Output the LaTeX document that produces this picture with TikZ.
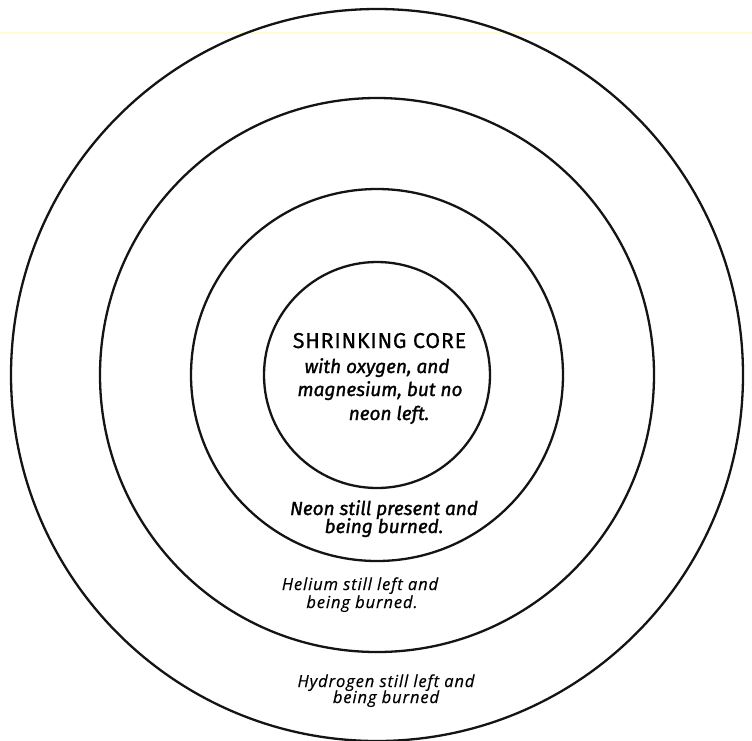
\documentclass[tikz,border=0pt]{standalone}
\usepackage{fontspec}
\setmainfont{Fira Sans}
\newfontfamily\capsfont{Fira Sans}[FakeBold=0.6, LetterSpace=3.5]
\newfontfamily\boldish{Fira Sans}[FakeBold=1.3]
\newfontfamily\letterfont{Open Sans}[FakeBold=0.4, LetterSpace=5.5]
\begin{document}
\begin{tikzpicture}[x=1pt,y=-1pt,
  ring/.style={draw=black!92, line width=2.3pt},
  coretxt/.style={anchor=base, inner sep=0pt, font=\capsfont\fontsize{21.5}{24}\selectfont},
  coreit/.style={anchor=base, inner sep=0pt, font=\boldish\fontsize{19}{22}\selectfont\itshape},
  neontxt/.style={anchor=base, inner sep=0pt, font=\boldish\fontsize{19}{22}\selectfont\itshape},
  shelltxt/.style={anchor=base, inner sep=0pt, font=\letterfont\fontsize{16.5}{18}\selectfont\itshape}]
\useasboundingbox (0,0) rectangle (752,740);
\fill[white] (0,0) rectangle (752,740);
\draw[yellow!18, line width=1.5pt] (0,33) -- (752,33);
\coordinate (c) at (377,375);
\draw[ring] (c) circle[radius=366];
\draw[ring] (c) circle[radius=277];
\draw[ring] (c) circle[radius=186];
\draw[ring] (c) circle[radius=113];
\node[coretxt] (core1) at (379.5,348) {SHRINKING CORE};
\node[coreit] (core2) at (377,373) {with oxygen, and};
\node[coreit] (core3) at (380,396) {magnesium, but no};
\node[coreit] (core4) at (389,420) {neon left.};
\node[neontxt] (neon1) at (384,515) {Neon still present and};
\node[neontxt] (neon2) at (384,533) {being burned.};
\node[shelltxt] (he1) at (360,590) {Helium still left and};
\node[shelltxt] (he2) at (362,608) {being burned.};
\node[shelltxt] (h1) at (386,687) {Hydrogen still left and};
\node[shelltxt] (h2) at (386,703) {being burned};
\end{tikzpicture}
\end{document}
